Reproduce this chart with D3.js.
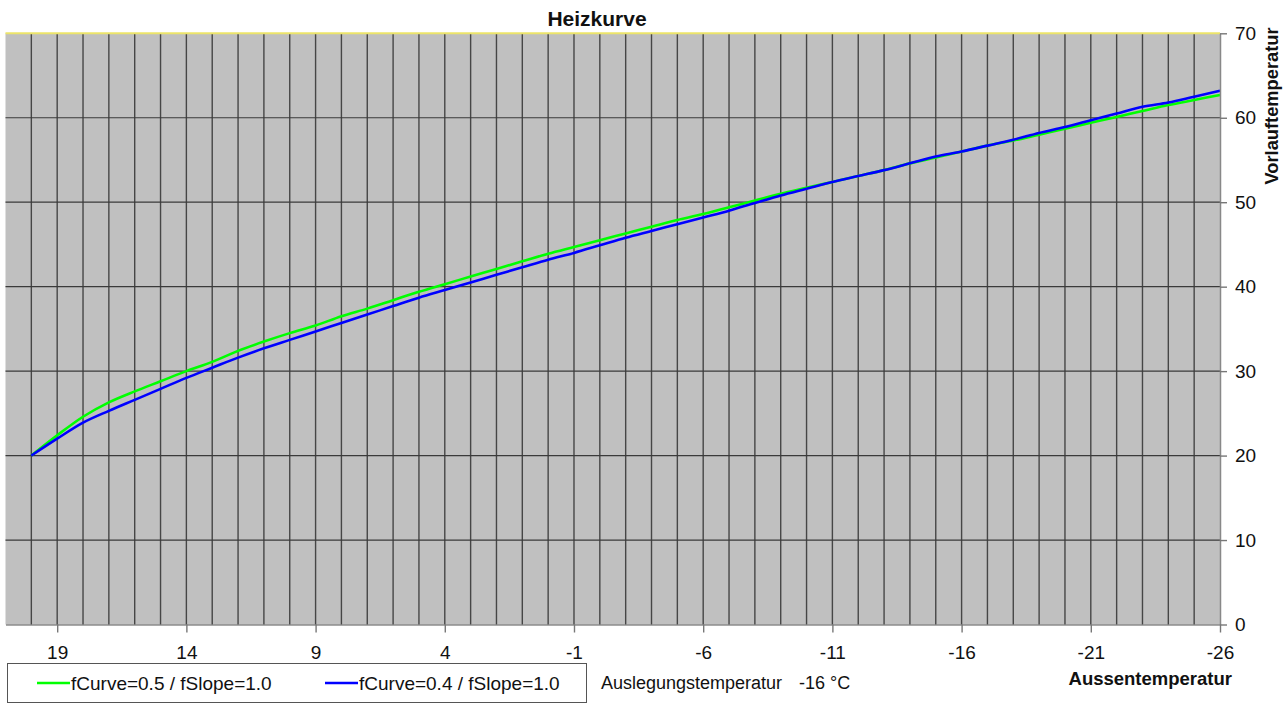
<!DOCTYPE html>
<html>
<head>
<meta charset="utf-8">
<script src="https://cdn.jsdelivr.net/npm/d3@7/dist/d3.min.js"></script>
<style>
  html, body { margin: 0; padding: 0; background: #ffffff; }
  svg { display: block; font-family: "Liberation Sans", Arial, sans-serif; }
</style>
</head>
<body>
<svg id="chart" width="1288" height="704"></svg>
<script>
// Outdoor temperature (°C), one point per degree from 20 down to -26
const outdoorTemps = d3.range(20, -27, -1);

// Flow temperature (°C) for each heating curve setting
const curveA = [
  20.0, 22.4, 24.6, 26.3, 27.6, 28.8, 30.0, 31.1, 32.4, 33.5,
  34.5, 35.4, 36.5, 37.4, 38.4, 39.4, 40.3, 41.2, 42.1, 43.0,
  43.9, 44.7, 45.5, 46.3, 47.1, 47.9, 48.6, 49.4, 50.2, 51.0,
  51.7, 52.4, 53.1, 53.8, 54.6, 55.3, 56.0, 56.7, 57.3, 58.0,
  58.7, 59.4, 60.1, 60.8, 61.5, 62.1, 62.7
];
const curveB = [
  20.0, 22.0, 23.9, 25.3, 26.6, 27.9, 29.2, 30.4, 31.6, 32.7,
  33.7, 34.7, 35.7, 36.7, 37.7, 38.7, 39.6, 40.5, 41.4, 42.3,
  43.2, 44.0, 44.9, 45.8, 46.6, 47.4, 48.2, 49.0, 49.9, 50.8,
  51.6, 52.4, 53.1, 53.8, 54.6, 55.4, 56.0, 56.7, 57.4, 58.2,
  58.9, 59.7, 60.5, 61.3, 61.8, 62.5, 63.2
];

const seriesNames = ["fCurve=0.5 / fSlope=1.0", "fCurve=0.4 / fSlope=1.0"];
const seriesColors = ["#00ff00", "#0000ff"];

const xTickValues = [19, 14, 9, 4, -1, -6, -11, -16, -21, -26];
const yTickValues = [0, 10, 20, 30, 40, 50, 60, 70];

const chartTitle = "Heizkurve";
const xTitle = "Aussentemperatur";
const yTitle = "Vorlauftemperatur";
const designLabel = "Auslegungstemperatur";
const designValue = "-16 °C";

const svg = d3.select("#chart");

const plot = { left: 5.5, right: 1220, top: 33.3, bottom: 624.5 };

const x = d3.scaleLinear().domain([21, -26]).range([plot.left, plot.right]);
const y = d3.scaleLinear().domain([0, 70]).range([plot.bottom, plot.top]);

// Plain hyphen-minus for negative labels
const plainNumber = d => String(d);

// Plot background
svg.append("rect")
  .attr("x", plot.left).attr("y", plot.top)
  .attr("width", plot.right - plot.left)
  .attr("height", plot.bottom - plot.top)
  .attr("fill", "#c0c0c0");

// Vertical gridlines, one per degree
svg.append("g")
  .selectAll("line")
  .data(d3.range(20, -26, -1))
  .join("line")
  .attr("x1", d => x(d)).attr("x2", d => x(d))
  .attr("y1", plot.top).attr("y2", plot.bottom)
  .attr("stroke", "#464646")
  .attr("stroke-width", 1.4);

// Horizontal gridlines
svg.append("g")
  .selectAll("line")
  .data(yTickValues.filter(v => v > 0 && v < 70))
  .join("line")
  .attr("x1", plot.left).attr("x2", plot.right)
  .attr("y1", d => y(d)).attr("y2", d => y(d))
  .attr("stroke", "#3a3a3a")
  .attr("stroke-width", 1.2);

// Top border of the plot area
svg.append("line")
  .attr("x1", plot.left).attr("x2", plot.right)
  .attr("y1", y(70)).attr("y2", y(70))
  .attr("stroke", "#ece46a")
  .attr("stroke-width", 2);

// Curves
const line = d3.line()
  .x((d, i) => x(outdoorTemps[i]))
  .y(d => y(d))
  .curve(d3.curveMonotoneX);

[curveA, curveB].forEach((vals, i) => {
  svg.append("path")
    .datum(vals)
    .attr("d", line)
    .attr("fill", "none")
    .attr("stroke", seriesColors[i])
    .attr("stroke-width", 2.6)
    .attr("stroke-linejoin", "round");
});

// X axis
const xAxis = svg.append("g")
  .attr("transform", `translate(0,${plot.bottom})`)
  .call(d3.axisBottom(x).tickValues(xTickValues).tickFormat(plainNumber)
    .tickSize(8).tickPadding(13).tickSizeOuter(0));
xAxis.select(".domain").attr("stroke", "#555").attr("stroke-width", 1.2);
xAxis.selectAll(".tick line").attr("stroke", "#777").attr("stroke-width", 1.4);
xAxis.selectAll(".tick text")
  .attr("font-size", 19)
  .attr("fill", "#111")
  .style("font-family", "'Liberation Sans', Arial, sans-serif");

// Y axis on the right
const yAxis = svg.append("g")
  .attr("transform", `translate(${plot.right},0)`)
  .call(d3.axisRight(y).tickValues(yTickValues).tickFormat(plainNumber)
    .tickSize(7).tickPadding(8).tickSizeOuter(0));
yAxis.select(".domain").attr("stroke", "#888").attr("stroke-width", 1.5);
yAxis.selectAll(".tick line").attr("stroke", "#777").attr("stroke-width", 1.4);
yAxis.selectAll(".tick text")
  .attr("font-size", 19)
  .attr("fill", "#111")
  .style("font-family", "'Liberation Sans', Arial, sans-serif");

// Titles
svg.append("text")
  .attr("x", 597).attr("y", 26)
  .attr("text-anchor", "middle")
  .attr("font-size", 21).attr("font-weight", "bold")
  .attr("fill", "#111")
  .text(chartTitle);

svg.append("text")
  .attr("x", 1232).attr("y", 685)
  .attr("text-anchor", "end")
  .attr("font-size", 18.5).attr("font-weight", "bold")
  .attr("fill", "#111")
  .text(xTitle);

svg.append("text")
  .attr("transform", "translate(1278,106) rotate(-90)")
  .attr("text-anchor", "middle")
  .attr("font-size", 18.3).attr("font-weight", "bold")
  .attr("fill", "#111")
  .text(yTitle);

// Design temperature note
svg.append("text")
  .attr("x", 601).attr("y", 689)
  .attr("font-size", 18).attr("fill", "#111")
  .text(designLabel);
svg.append("text")
  .attr("x", 799).attr("y", 689)
  .attr("font-size", 18).attr("fill", "#111")
  .text(designValue);

// Legend
const legend = svg.append("g");
legend.append("rect")
  .attr("x", 7.5).attr("y", 663.5)
  .attr("width", 579).attr("height", 39)
  .attr("fill", "#fff")
  .attr("stroke", "#555").attr("stroke-width", 1);

const legendX = [37, 325];
seriesNames.forEach((name, i) => {
  const g = legend.append("g").attr("transform", `translate(${legendX[i]},683)`);
  g.append("line")
    .attr("x1", 0).attr("x2", 33)
    .attr("y1", 0).attr("y2", 0)
    .attr("stroke", seriesColors[i]).attr("stroke-width", 2.6);
  g.append("text")
    .attr("x", 34).attr("y", 6.5)
    .attr("font-size", 19).attr("fill", "#111")
    .text(name);
});
</script>
</body>
</html>
